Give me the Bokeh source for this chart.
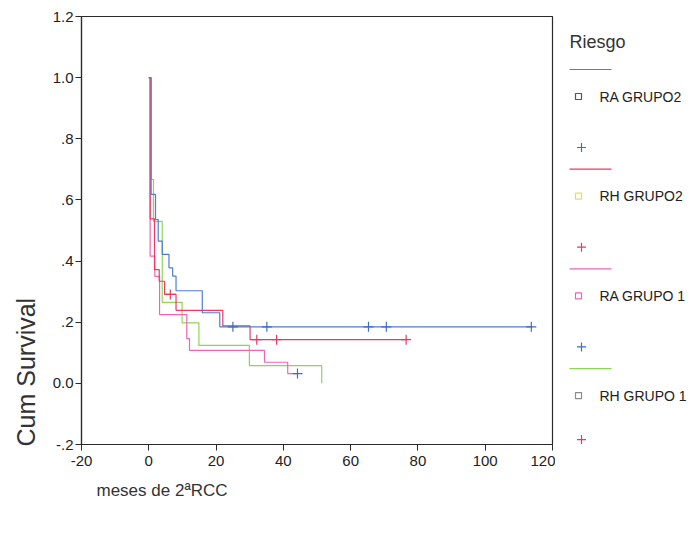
from bokeh.plotting import figure
from bokeh.layouts import row
from bokeh.models import FixedTicker, Title
from bokeh.core.properties import value
from bokeh.embed import file_html
from bokeh.resources import INLINE

# ---- data ----
series_names = ["RA GRUPO2", "RH GRUPO2", "RA GRUPO 1", "RH GRUPO 1"]

ra2_times = [0.7, 2.0, 2.8, 4.0, 6.0, 7.1, 8.1, 15.9, 21.1]
ra2_surv = [0.618, 0.536, 0.465, 0.422, 0.378, 0.351, 0.303, 0.231, 0.185]
ra2_end = 114.0
ra2_censor = [25.0, 35.1, 65.3, 70.6, 113.7]

rh2_times = [0.4, 1.7, 3.1, 4.7, 8.1, 22.0, 30.1]
rh2_surv = [0.538, 0.372, 0.334, 0.291, 0.239, 0.188, 0.143]
rh2_end = 76.5
rh2_censor = [6.4, 32.1, 38.0, 76.5]
rh2_censor_surv = [0.291, 0.143, 0.143, 0.143]

ra1_times = [0.4, 1.8, 3.2, 11.3, 12.1, 34.4, 41.3]
ra1_surv = [0.416, 0.35, 0.225, 0.146, 0.108, 0.069, 0.032]
ra1_end = 44.2
ra1_censor = [44.2]

rh1_times = [0.7, 1.4, 4.0, 9.9, 14.9, 29.9, 51.4]
rh1_surv = [0.667, 0.530, 0.265, 0.198, 0.124, 0.058, 0.0]
rh1_end = 51.4

x_ticks = [-20, 0, 20, 40, 60, 80, 100, 120]
x_tick_labels = ["-20", "0", "20", "40", "60", "80", "100", "120"]
y_ticks = [-0.2, 0.0, 0.2, 0.4, 0.6, 0.8, 1.0, 1.2]
y_tick_labels = ["-.2", "0.0", ".2", ".4", ".6", ".8", "1.0", "1.2"]

BLUE = "#4d7fd0"
RED = "#ec3a62"
PINK = "#ee64b6"
GREEN = "#8ed45a"
CROSS_BLUE = "#3e6cc6"
CROSS_RED = "#e83a60"
FONT = "Liberation Sans"

p = figure(frame_width=471, frame_height=428, x_range=(-20, 120), y_range=(-0.2, 1.2),
           output_backend="svg", toolbar_location=None,
           min_border_left=81, min_border_top=16, min_border_right=3, min_border_bottom=87)
p.background_fill_color = "white"
p.border_fill_color = "white"
p.outline_line_color = "#2a2a2a"
p.outline_line_width = 1.2
p.xgrid.visible = False
p.ygrid.visible = False

for ax in (p.xaxis, p.yaxis):
    ax.axis_line_color = "#2a2a2a"
    ax.axis_line_width = 1.2
    ax.major_tick_line_color = "#2a2a2a"
    ax.major_tick_in = 0
    ax.major_tick_out = 6
    ax.minor_tick_line_color = None
    ax.major_label_text_font = FONT
    ax.major_label_text_font_size = "15px"
    ax.major_label_text_color = "#222222"

p.xaxis.ticker = FixedTicker(ticks=x_ticks)
p.yaxis.ticker = FixedTicker(ticks=y_ticks)
p.xaxis.major_label_overrides = {t: lab for t, lab in zip(x_ticks, x_tick_labels)}
p.yaxis.major_label_overrides = {t: lab for t, lab in zip(y_ticks, y_tick_labels)}
p.xaxis.major_label_standoff = 5
p.yaxis.major_label_standoff = 2


def km(times, surv, end):
    xs = [0.0] + list(times) + [end]
    ys = [1.0] + list(surv) + [surv[-1]]
    return xs, ys


for (t, s, e, c) in [(rh1_times, rh1_surv, rh1_end, GREEN),
                     (ra1_times, ra1_surv, ra1_end, PINK),
                     (rh2_times, rh2_surv, rh2_end, RED),
                     (ra2_times, ra2_surv, ra2_end, BLUE)]:
    xs, ys = km(t, s, e)
    p.step(xs, ys, mode="after", line_color=c, line_width=1.2)

p.scatter(ra2_censor, [ra2_surv[-1]] * len(ra2_censor), marker="cross", size=10,
          line_color=CROSS_BLUE, line_width=1.2)
p.scatter(rh2_censor, rh2_censor_surv, marker="cross", size=10,
          line_color=CROSS_RED, line_width=1.2)
p.scatter(ra1_censor, [ra1_surv[-1]] * len(ra1_censor), marker="cross", size=10,
          line_color=CROSS_BLUE, line_width=1.2)

# axis titles as Titles placed left / below
p.add_layout(Title(text="Cum Survival", align="left", offset=-2, standoff=19,
                   text_font=FONT, text_font_size="25px", text_font_style="normal",
                   text_color="#333333"), "left")
p.add_layout(Title(text="meses de 2ªRCC", align="left", offset=15, standoff=20,
                   text_font=FONT, text_font_size="17px", text_font_style="normal",
                   text_color="#333333"), "below")

# ---- legend panel (coordinates in page pixels) ----
leg = figure(frame_width=139, frame_height=428, x_range=(556, 695), y_range=(445, 17),
             output_backend="svg", toolbar_location=None,
             min_border_left=0, min_border_right=0, min_border_top=16, min_border_bottom=87)
leg.axis.visible = False
leg.xgrid.visible = False
leg.ygrid.visible = False
leg.outline_line_color = None
leg.background_fill_color = "white"
leg.border_fill_color = "white"

leg_line_colors = [BLUE, RED, PINK, GREEN]
leg_box_colors = ["#555555", "#e6de5a", "#e865b6", "#8a8a8a"]
leg_cross_colors = [CROSS_BLUE, CROSS_RED, CROSS_BLUE, CROSS_RED]

leg.text([570], [42], text=["Riesgo"], text_font=value(FONT), text_font_size="18px",
         text_color="#333333", text_baseline="middle", text_align="left")
base, step = 70, 99.7
for i, name in enumerate(series_names):
    y0 = base + i * step
    leg.segment([570], [y0], [612], [y0], line_color=leg_line_colors[i], line_width=1.2)
    leg.scatter([579], [y0 + 27], marker="square", size=6, fill_color="white",
                line_color=leg_box_colors[i], line_width=1.2)
    leg.text([600], [y0 + 27], text=[name], text_font=value(FONT), text_font_size="14px",
             text_color="#222222", text_baseline="middle", text_align="left")
    yc = y0 + 78 if i < 3 else y0 + 71
    leg.scatter([582], [yc], marker="cross", size=9, line_color=leg_cross_colors[i],
                line_width=1.2)

layout = row(p, leg, spacing=0)
open("out.html", "w").write(file_html(layout, INLINE))
